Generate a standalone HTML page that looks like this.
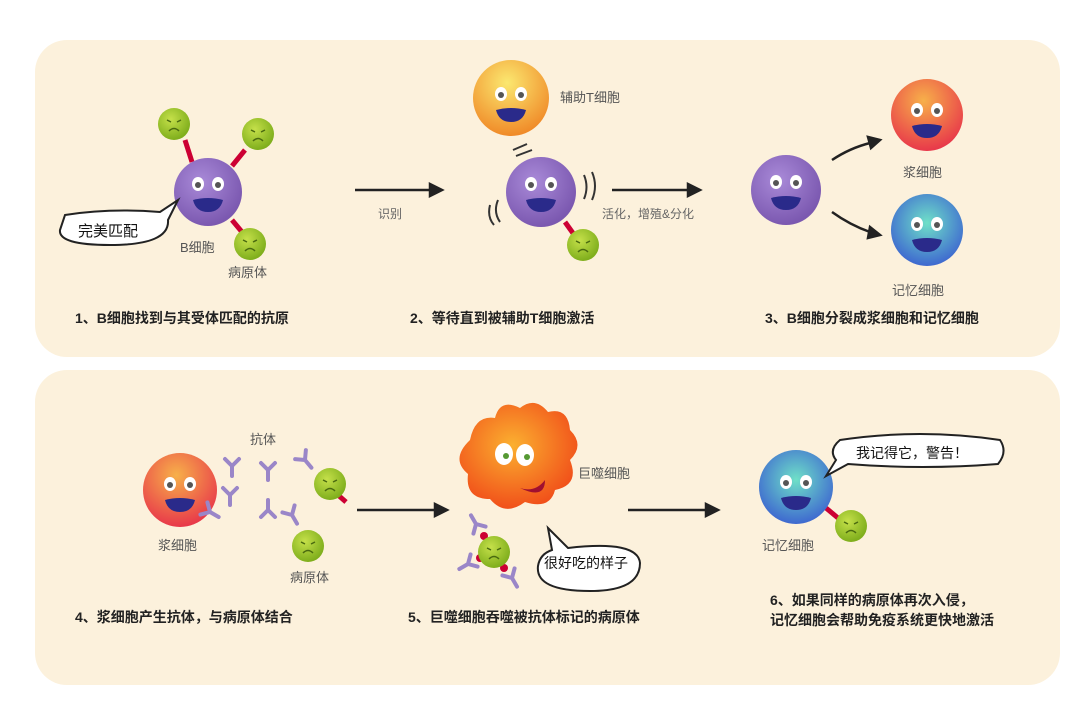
<!DOCTYPE html>
<html><head><meta charset="utf-8"><style>
body{margin:0;background:#fff;width:1080px;height:705px;overflow:hidden}
svg text{font-family:"Liberation Sans","Noto Sans CJK SC",sans-serif}
</style></head><body>
<svg width="1080" height="705" viewBox="0 0 1080 705">
<defs>
<radialGradient id="pu" cx="40%" cy="35%" r="65%"><stop offset="0" stop-color="#a98ad8"/><stop offset="1" stop-color="#7b58b0"/></radialGradient>
<radialGradient id="gr" cx="40%" cy="35%" r="65%"><stop offset="0" stop-color="#c5e04a"/><stop offset="1" stop-color="#7fae1c"/></radialGradient>
<radialGradient id="or" cx="45%" cy="30%" r="70%"><stop offset="0" stop-color="#fbe870"/><stop offset="1" stop-color="#f08a28"/></radialGradient>
<radialGradient id="rd" cx="45%" cy="30%" r="70%"><stop offset="0" stop-color="#f7b04a"/><stop offset="1" stop-color="#e8384a"/></radialGradient>
<radialGradient id="bl" cx="50%" cy="40%" r="65%"><stop offset="0" stop-color="#6fe0c8"/><stop offset="1" stop-color="#3a5ed0"/></radialGradient>
<radialGradient id="mo" cx="45%" cy="40%" r="65%"><stop offset="0" stop-color="#fbb030"/><stop offset="1" stop-color="#f04818"/></radialGradient>
<g id="face"><ellipse cx="-10" cy="-8" rx="6" ry="7" fill="#fff"/><ellipse cx="10" cy="-8" rx="6" ry="7" fill="#fff"/><circle cx="-10" cy="-7" r="3" fill="#555"/><circle cx="10" cy="-7" r="3" fill="#555"/><path d="M-15 8 Q0 4 15 8 Q12 20 0 20 Q-12 20 -15 8Z" fill="#2a2a8a"/></g>
<g id="path"><circle r="16" fill="url(#gr)"/><path d="M-7 -4l4 2M7 -4l-4 2M-5 7q5-5 10 0" stroke="#4a6a10" stroke-width="1.5" fill="none"/></g>
<g id="ab" stroke="#9a86c8" stroke-width="4" fill="none" stroke-linecap="round"><path d="M0 0v10M0 0l-7-7M0 0l7-7"/></g>
</defs>
<rect x="35" y="40" width="1025" height="317" rx="32" fill="#fcf1dc"/>
<rect x="35" y="370" width="1025" height="315" rx="32" fill="#fcf1dc"/>
<g stroke="#222" stroke-width="2.5" fill="#222">
<line x1="355" y1="190" x2="432" y2="190"/><path d="M442 190l-12-6v12z"/>
<line x1="612" y1="190" x2="690" y2="190"/><path d="M700 190l-12-6v12z"/>
<path d="M832 160Q850 148 870 143" fill="none"/><path d="M880 140l-12-3 3 11z"/>
<path d="M832 212Q850 225 870 232" fill="none"/><path d="M880 235l-10-8-2 11z"/>
<line x1="357" y1="510" x2="437" y2="510"/><path d="M447 510l-12-6v12z"/>
<line x1="628" y1="510" x2="708" y2="510"/><path d="M718 510l-12-6v12z"/>
</g>
<!-- panel1 -->
<g stroke="#c03" stroke-width="5"><line x1="185" y1="140" x2="192" y2="162"/><line x1="245" y1="150" x2="232" y2="166"/><line x1="232" y1="220" x2="242" y2="232"/></g>
<circle cx="208" cy="192" r="34" fill="url(#pu)"/><use href="#face" x="208" y="192"/>
<use href="#path" x="174" y="124"/><use href="#path" x="258" y="134"/><use href="#path" x="250" y="244"/>
<path d="M65 215Q110 208 160 212L178 200 168 220Q170 245 110 245Q58 245 60 230Z" fill="#fff" stroke="#222" stroke-width="2"/>
<text x="78" y="236" font-size="15" fill="#111">完美匹配</text>
<text x="180" y="252" font-size="13" fill="#555">B细胞</text>
<text x="228" y="277" font-size="13" fill="#555">病原体</text>
<text x="75" y="323" font-size="14" font-weight="bold" fill="#222">1、B细胞找到与其受体匹配的抗原</text>
<text x="378" y="218" font-size="12" fill="#666">识别</text>
<circle cx="511" cy="98" r="38" fill="url(#or)"/><use href="#face" x="511" y="102"/>
<text x="560" y="102" font-size="13" fill="#555">辅助T细胞</text>
<path d="M513 150l14-6M516 156l16-6" stroke="#333" stroke-width="2"/>
<line x1="565" y1="222" x2="575" y2="236" stroke="#c03" stroke-width="5"/>
<circle cx="541" cy="192" r="35" fill="url(#pu)"/><use href="#face" x="541" y="192"/>
<path d="M498 200q-5 12 2 22M490 205q-3 12 4 20M584 175q5 12 0 24M592 172q6 14 0 28" stroke="#333" stroke-width="2" fill="none"/>
<use href="#path" x="583" y="245"/>
<text x="602" y="218" font-size="12" fill="#666">活化，增殖&amp;分化</text>
<text x="410" y="323" font-size="14" font-weight="bold" fill="#222">2、等待直到被辅助T细胞激活</text>
<circle cx="786" cy="190" r="35" fill="url(#pu)"/><use href="#face" x="786" y="190"/>
<circle cx="927" cy="115" r="36" fill="url(#rd)"/><use href="#face" x="927" y="118"/>
<text x="903" y="177" font-size="13" fill="#555">浆细胞</text>
<circle cx="927" cy="230" r="36" fill="url(#bl)"/><use href="#face" x="927" y="232"/>
<text x="892" y="295" font-size="13" fill="#555">记忆细胞</text>
<text x="765" y="323" font-size="14" font-weight="bold" fill="#222">3、B细胞分裂成浆细胞和记忆细胞</text>
<!-- panel2 -->
<circle cx="180" cy="490" r="37" fill="url(#rd)"/><use href="#face" x="180" y="492"/>
<text x="158" y="550" font-size="13" fill="#555">浆细胞</text>
<text x="250" y="444" font-size="13" fill="#555">抗体</text>
<use href="#ab" x="232" y="466"/><use href="#ab" x="268" y="470"/><use href="#ab" x="230" y="495"/><use href="#ab" x="268" y="510" transform="rotate(180 268 510)"/><use href="#ab" x="210" y="512" transform="rotate(-60 210 512)"/><use href="#ab" x="305" y="460" transform="rotate(-40 305 460)"/><use href="#ab" x="292" y="515" transform="rotate(-30 292 515)"/>
<line x1="338" y1="495" x2="346" y2="502" stroke="#c03" stroke-width="5"/>
<use href="#path" x="330" y="484"/><use href="#path" x="308" y="546"/>
<text x="290" y="582" font-size="13" fill="#555">病原体</text>
<text x="75" y="622" font-size="14" font-weight="bold" fill="#222">4、浆细胞产生抗体，与病原体结合</text>
<path d="M470 440q5-25 25-22q5-20 25-10q15-12 28 4q20-5 22 18q15 15 0 30q10 25-15 30q-5 20-30 12q-20 15-35 -3q-25 0-22-25q-18-15 2-34z" fill="url(#mo)"/>
<ellipse cx="504" cy="454" rx="9" ry="11" fill="#fff"/><ellipse cx="525" cy="455" rx="9" ry="11" fill="#fff"/><circle cx="506" cy="456" r="3" fill="#593"/><circle cx="527" cy="457" r="3" fill="#593"/>
<path d="M520 488q15 5 25-8q0 20-25 8z" fill="#a01030"/>
<text x="578" y="478" font-size="13" fill="#555">巨噬细胞</text>
<g transform="translate(494,552)"><use href="#ab" x="-18" y="-28" transform="rotate(150 -18 -28)"/><use href="#ab" x="-26" y="12" transform="rotate(60 -26 12)"/><use href="#ab" x="18" y="26" transform="rotate(-30 18 26)"/><circle cx="-10" cy="-16" r="4" fill="#c03"/><circle cx="-14" cy="6" r="4" fill="#c03"/><circle cx="10" cy="16" r="4" fill="#c03"/><use href="#path"/></g>
<path d="M548 528l20 20q70-8 72 15q0 28-50 28q-55 0-52-25q2-12 14-16z" fill="#fff" stroke="#222" stroke-width="2"/>
<text x="544" y="568" font-size="14" fill="#111">很好吃的样子</text>
<text x="408" y="622" font-size="14" font-weight="bold" fill="#222">5、巨噬细胞吞噬被抗体标记的病原体</text>
<line x1="826" y1="508" x2="838" y2="518" stroke="#c03" stroke-width="5"/>
<circle cx="796" cy="487" r="37" fill="url(#bl)"/><use href="#face" x="796" y="490"/>
<use href="#path" x="851" y="526"/>
<text x="762" y="550" font-size="13" fill="#555">记忆细胞</text>
<path d="M840 440q80-12 160 0q8 12-2 24q-75 6-150 0l-22 12 10-16q-8-10 4-20z" fill="#fff" stroke="#222" stroke-width="2"/>
<text x="856" y="458" font-size="14" fill="#111">我记得它，警告！</text>
<text x="770" y="605" font-size="14" font-weight="bold" fill="#222">6、如果同样的病原体再次入侵，</text>
<text x="770" y="625" font-size="14" font-weight="bold" fill="#222">记忆细胞会帮助免疫系统更快地激活</text>
</svg>
</body></html>
